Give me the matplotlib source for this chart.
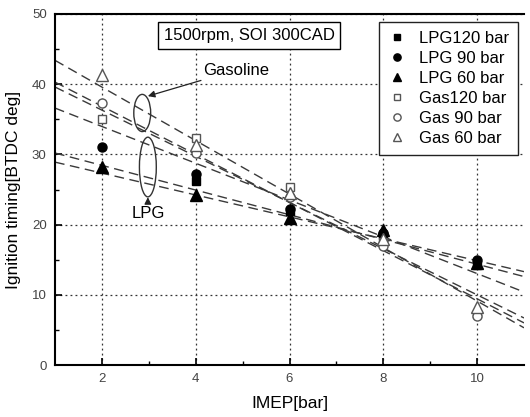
import matplotlib
matplotlib.use("Agg")
import matplotlib.pyplot as plt
from matplotlib.patches import Ellipse
from matplotlib.lines import Line2D
import numpy as np

plt.rcParams['font.family'] = ['Liberation Sans', 'DejaVu Sans']

# ---- data ----
imep = [2, 4, 6, 8, 10]
series_names = ["LPG120 bar", "LPG 90 bar", "LPG 60 bar", "Gas120 bar", "Gas 90 bar", "Gas 60 bar"]
lpg120 = [np.nan, 26.2, 22.0, 18.5, 14.2]
lpg90 = [31.0, 27.2, 22.2, 18.8, 15.0]
lpg60 = [28.2, 24.2, 21.0, 19.3, 14.5]
gas120 = [35.0, 32.3, 25.4, 17.5, 7.3]
gas90 = [37.3, 30.2, 24.0, 17.0, 7.0]
gas60 = [41.3, 31.4, 24.5, 18.0, 8.3]

# dashed trend lines: value at IMEP=1 and IMEP=11
trend_x = [1, 11]
trend_start = [36.6, 30.2, 28.9, 39.6, 40.3, 43.4]
trend_end = [10.4, 12.6, 13.3, 6.7, 6.0, 5.3]

xticks = [2, 4, 6, 8, 10]
yticks = [0, 10, 20, 30, 40, 50]

# ---- figure ----
fig = plt.figure(figsize=(5.30, 4.17), dpi=100)
ax = fig.add_axes([55/530, 52/417, 469/530, 351/417])

ax.set_xlim(1, 11)
ax.set_ylim(0, 50)

# trend lines
for s, e in zip(trend_start, trend_end):
    ax.plot(trend_x, [s, e], color='#3a3a3a', lw=1.0, dashes=(7, 4), zorder=2)

styles = [
    dict(marker='s', mfc='black', mec='black', ms=6),
    dict(marker='o', mfc='black', mec='black', ms=6.5),
    dict(marker='^', mfc='black', mec='black', ms=8),
    dict(marker='s', mfc='white', mec='#555555', ms=6),
    dict(marker='o', mfc='white', mec='#555555', ms=6.5),
    dict(marker='^', mfc='white', mec='#555555', ms=8),
]
all_series = [lpg120, lpg90, lpg60, gas120, gas90, gas60]
handles = []
for name, vals, st in zip(series_names, all_series, styles):
    ax.plot(imep, vals, ls='none', mew=1.0, zorder=4, **st)
    hst = dict(st)
    hst['ms'] = st['ms'] * 0.8
    handles.append(Line2D([], [], ls='none', label=name, mew=1.0, **hst))

# grid
ax.set_xticks(xticks)
ax.set_yticks(yticks)
ax.set_xticks([3, 5, 7, 9], minor=True)
ax.set_yticks([5, 15, 25, 35, 45], minor=True)
ax.grid(True, which='major', ls=(0, (1.5, 2.5)), color='#333333', lw=0.9)

ax.tick_params(which='major', direction='in', length=5, width=1.2, labelsize=9.5,
               labelcolor='#444444', top=False, right=False, pad=6)
ax.tick_params(which='minor', direction='in', length=3, width=1.0, top=False, right=False)

for sp in ['left', 'bottom', 'top']:
    ax.spines[sp].set_linewidth(1.5)
ax.spines['right'].set_visible(False)

ax.set_xlabel('IMEP[bar]', fontsize=12.5, labelpad=8)
ax.set_ylabel('Ignition timing[BTDC deg]', fontsize=12.5, labelpad=8)

# annotations
ax.text(5.14, 46.9, '1500rpm, SOI 300CAD', fontsize=12, ha='center', va='center',
        bbox=dict(boxstyle='square,pad=0.35', fc='white', ec='black', lw=1.0), zorder=6)

ax.add_patch(Ellipse((2.86, 35.9), 0.36, 5.3, fill=False, ec='#333333', lw=1.0, zorder=5))
ax.add_patch(Ellipse((2.98, 28.2), 0.36, 8.5, fill=False, ec='#333333', lw=1.0, zorder=5))

ax.annotate('Gasoline', xy=(2.98, 38.3), xytext=(4.15, 42.0), fontsize=12,
            ha='left', va='center',
            arrowprops=dict(arrowstyle='-|>', color='#222222', lw=0.9,
                            mutation_scale=10, shrinkA=0, shrinkB=0))
ax.annotate('LPG', xy=(2.98, 23.9), xytext=(2.98, 21.6), fontsize=12,
            ha='center', va='center',
            arrowprops=dict(arrowstyle='-|>', color='#222222', lw=0.9,
                            mutation_scale=10, shrinkA=0, shrinkB=0))

leg = ax.legend(handles=handles, loc='upper right', bbox_to_anchor=(0.987, 0.977),
                borderaxespad=0, fontsize=12, frameon=True, fancybox=False,
                edgecolor='#222222', framealpha=1, handlelength=1.0,
                handletextpad=0.8, labelspacing=0.3, borderpad=0.55)
leg.get_frame().set_linewidth(1.0)
leg.set_zorder(7)

fig.savefig('out.png', dpi=100)
